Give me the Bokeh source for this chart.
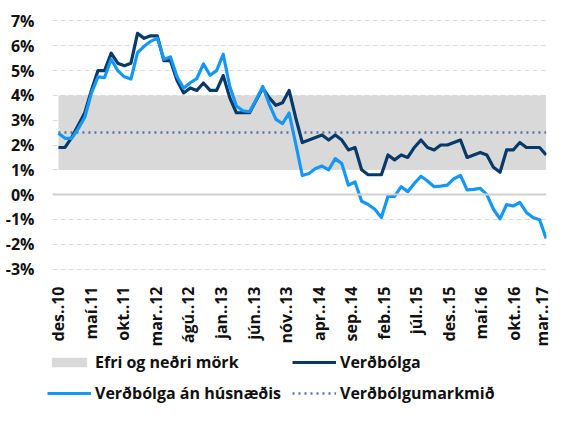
import math
from bokeh.plotting import figure
from bokeh.layouts import column
from bokeh.models import (Range1d, FixedTicker, PrintfTickFormatter, CustomJSTickFormatter,
                          Span, Legend, LegendItem, ColumnDataSource)
from bokeh.embed import file_html
from bokeh.resources import INLINE

# ---------------- data ----------------
tick_labels = ["des..10", "maí.11", "okt..11", "mar..12", "ágú..12", "jan..13",
               "jún..13", "nóv..13", "apr..14", "sep..14", "feb..15", "júl..15",
               "des..15", "maí.16", "okt..16", "mar..17"]

verdbolga = [1.9, 1.9, 2.3, 2.8, 3.3, 4.2, 5.0, 5.0, 5.7, 5.3, 5.2, 5.3,
             6.5, 6.3, 6.4, 6.4, 5.4, 5.4, 4.6, 4.1, 4.3, 4.2, 4.5, 4.2,
             4.2, 4.8, 3.9, 3.3, 3.3, 3.3, 3.8, 4.3, 3.9, 3.6, 3.7, 4.2,
             3.1, 2.1, 2.2, 2.3, 2.4, 2.2, 2.4, 2.2, 1.8, 1.9, 1.0, 0.8,
             0.8, 0.8, 1.6, 1.4, 1.6, 1.5, 1.9, 2.2, 1.9, 1.8, 2.0, 2.0,
             2.1, 2.2, 1.5, 1.6, 1.7, 1.6, 1.1, 0.9, 1.8, 1.8, 2.1, 1.9,
             1.9, 1.9, 1.6]

verdbolga_an_husnaedis = [2.47, 2.27, 2.27, 2.66, 3.12, 4.09, 4.75, 4.72, 5.46, 5.0, 4.75, 4.66,
                          5.72, 5.98, 6.18, 6.31, 5.46, 5.55, 4.75, 4.29, 4.51, 4.68, 5.27, 4.81,
                          5.0, 5.66, 4.36, 3.57, 3.38, 3.34, 3.83, 4.36, 3.64, 3.03, 2.86, 3.29,
                          2.05, 0.77, 0.85, 1.05, 1.15, 1.0, 1.45, 1.25, 0.38, 0.51, -0.27, -0.4,
                          -0.59, -0.92, -0.07, -0.07, 0.32, 0.12, 0.45, 0.74, 0.55, 0.32, 0.34, 0.38,
                          0.64, 0.77, 0.19, 0.21, 0.25, 0.0, -0.59, -0.98, -0.4, -0.46, -0.31, -0.72,
                          -0.92, -1.01, -1.77]

efri_mork = 4.0
nedri_mork = 1.0
markmid = 2.5
y_ticks = [-3, -2, -1, 0, 1, 2, 3, 4, 5, 6, 7]
legend_labels = ["Efri og neðri mörk", "Verðbólga", "Verðbólga án húsnæðis", "Verðbólgumarkmið"]

# ---------------- build ----------------
n = len(verdbolga)
months = list(range(n))
last = n - 1
x_ticks = [k * last / (len(tick_labels) - 1) for k in range(len(tick_labels))]

src = ColumnDataSource(dict(
    x=months,
    v=verdbolga,
    va=verdbolga_an_husnaedis,
    lo=[nedri_mork] * n,
    hi=[efri_mork] * n,
    t=[markmid] * n,
))

FONT = "Open Sans"
DARK = "#073a68"
LIGHT = "#1597f5"
DOT = "#5677a6"
BAND = "#d9d9d9"
W = 552

p = figure(width=W, height=349, output_backend="svg", toolbar_location=None,
           x_range=Range1d(-0.9, last + 0.05), y_range=Range1d(-3.06, 7.06),
           min_border_left=52, min_border_right=6, min_border_top=19, min_border_bottom=0,
           frame_align=False)
p.outline_line_color = None
p.background_fill_color = "white"
p.border_fill_color = "white"

band_style = dict(fill_color=BAND)
target_style = dict(line_color=DOT, line_width=2.5, line_dash="2 4")
dark_style = dict(line_color=DARK, line_width=3.2, line_join="round")
light_style = dict(line_color=LIGHT, line_width=3.2, line_join="round")

p.varea(x="x", y1="lo", y2="hi", source=src, **band_style)
p.line(x="x", y="t", source=src, **target_style)
p.line(x="x", y="v", source=src, **dark_style)
p.line(x="x", y="va", source=src, **light_style)

p.add_layout(Span(location=0, dimension="width", line_color="#d0d0d0", line_width=2), "center")

# grids
p.xgrid.grid_line_color = None
p.ygrid.ticker = FixedTicker(ticks=y_ticks)
p.ygrid.grid_line_color = "#d9d9d9"
p.ygrid.grid_line_dash = "5 3"
p.ygrid.grid_line_width = 1.2

# y axis
ya = p.yaxis[0]
ya.ticker = FixedTicker(ticks=y_ticks)
ya.formatter = PrintfTickFormatter(format="%d%%")
ya.axis_line_color = None
ya.major_tick_line_color = None
ya.minor_tick_line_color = None
ya.major_label_standoff = 12
ya.major_label_text_font = FONT
ya.major_label_text_font_style = "bold"
ya.major_label_text_font_size = "16px"
ya.major_label_text_color = "#111111"

# x axis
xa = p.xaxis[0]
xa.ticker = FixedTicker(ticks=x_ticks)
xa.formatter = CustomJSTickFormatter(args=dict(labels=tick_labels, last=last),
                                     code="return labels[Math.round(tick * (labels.length - 1) / last)];")
xa.major_label_orientation = math.pi / 2
xa.axis_line_color = None
xa.major_tick_line_color = None
xa.minor_tick_line_color = None
xa.major_label_standoff = 10
xa.major_label_text_font = FONT
xa.major_label_text_font_style = "bold"
xa.major_label_text_font_size = "16px"
xa.major_label_text_color = "#111111"

# ---------------- legend figure ----------------
lp = figure(width=W, height=56, output_backend="svg", toolbar_location=None,
            x_range=Range1d(0, 1), y_range=Range1d(0, 1),
            x_axis_location=None, y_axis_location=None,
            min_border_left=0, min_border_right=0, min_border_top=0, min_border_bottom=0,
            frame_align=False)
lp.outline_line_color = None
lp.xgrid.grid_line_color = None
lp.ygrid.grid_line_color = None

nan = float("nan")
r_band = lp.varea(x=[nan], y1=[nan], y2=[nan], **band_style)
r_dark = lp.line(x=[nan], y=[nan], **dark_style)
r_light = lp.line(x=[nan], y=[nan], **light_style)
r_target = lp.line(x=[nan], y=[nan], **target_style)

legend = Legend(items=[LegendItem(label=lab, renderers=[r]) for lab, r in
                       zip(legend_labels, [r_band, r_dark, r_light, r_target])],
                orientation="horizontal", ncols=2, location=(47, 1))
legend.label_text_font = FONT
legend.label_text_font_style = "bold"
legend.label_text_font_size = "16px"
legend.label_text_color = "#111111"
legend.glyph_width = 44
legend.glyph_height = 12
legend.label_height = 16
legend.label_width = 188
legend.label_standoff = 4
legend.spacing = 9
legend.padding = 0
legend.margin = 0
legend.border_line_color = None
legend.background_fill_alpha = 0
lp.add_layout(legend, "center")

layout = column(p, lp, spacing=0)
open("out.html", "w").write(file_html(layout, INLINE))
